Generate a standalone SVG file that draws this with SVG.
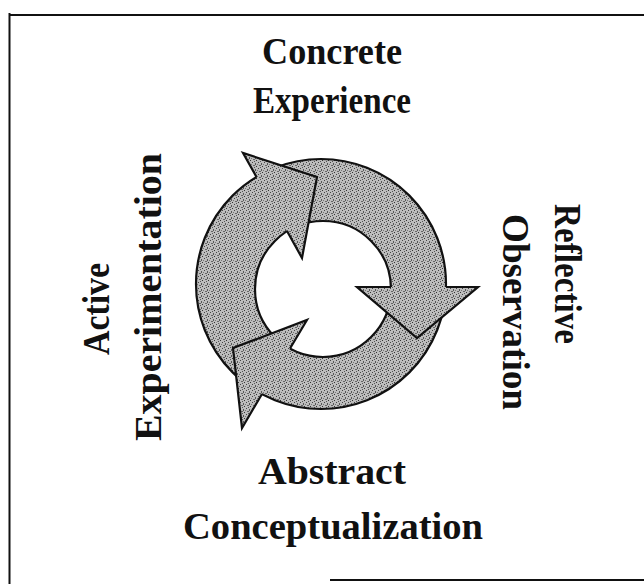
<svg xmlns="http://www.w3.org/2000/svg" width="644" height="584" viewBox="0 0 644 584">
<style>
.lbl{font-family:"Liberation Serif","Times New Roman",serif;font-weight:bold;font-size:38px;fill:#111;text-anchor:middle}
.frame{stroke:#111;stroke-width:2;fill:none}
.band{fill:url(#tex);stroke:none}
.edge{fill:none;stroke:#111;stroke-width:2.2;stroke-linejoin:miter}
</style>
<defs>
<pattern id="tex" width="6" height="6" patternUnits="userSpaceOnUse">
<rect width="6" height="6" fill="#bdbdbd"/>
<rect x="0" y="0" width="1" height="1" fill="#444"/>
<rect x="3" y="1" width="1" height="2" fill="#555"/>
<rect x="1" y="3" width="2" height="1" fill="#666"/>
<rect x="4" y="4" width="1" height="1" fill="#333"/>
<rect x="5" y="2" width="1" height="1" fill="#777"/>
<rect x="2" y="5" width="1" height="1" fill="#555"/>
</pattern>
</defs>
<rect width="644" height="584" fill="#fff"/>
<g id="frame">
<path class="frame" d="M9.5,13 V584 M9,15 H644 M330,580 H644"/>
</g>
<g id="connectors">
<path class="band" fill-rule="evenodd" d="M196,284 a125,125 0 1,0 250,0 a125,125 0 1,0 -250,0 Z M255,289 a68,68 0 1,0 136,0 a68,68 0 1,0 -136,0 Z"/>
<circle class="edge" cx="321" cy="284" r="125"/>
<circle class="edge" cx="323" cy="289" r="68"/>
<g id="arrow-top-left">
<polygon class="band" points="256.5,177 243,153 317,177 302,258 287,231"/>
<polyline class="edge" points="256.5,177 243,153 317,177 302,258 287,231"/>
</g>
<g id="arrow-right">
<polygon class="band" points="446,287 478,287 417,338 357,287 391,287"/>
<polyline class="edge" points="446,287 478,287 417,338 357,287 391,287"/>
</g>
<g id="arrow-lower-left">
<polygon class="band" points="262,394 242,428 233,348 307,320 290,348.5"/>
<polyline class="edge" points="262,394 242,428 233,348 307,320 290,348.5"/>
</g>
</g>
<g id="concrete-experience">
<text class="lbl" x="332" y="64" textLength="140" lengthAdjust="spacingAndGlyphs">Concrete</text>
<text class="lbl" x="332" y="113" textLength="158" lengthAdjust="spacingAndGlyphs">Experience</text>
</g>
<g id="reflective-observation">
<text class="lbl" transform="translate(555,274) rotate(90)" textLength="140" lengthAdjust="spacingAndGlyphs">Reflective</text>
<text class="lbl" transform="translate(503,312) rotate(90)" textLength="196" lengthAdjust="spacingAndGlyphs">Observation</text>
</g>
<g id="abstract-conceptualization">
<text class="lbl" x="332" y="484" textLength="148" lengthAdjust="spacingAndGlyphs">Abstract</text>
<text class="lbl" x="333" y="539" textLength="300" lengthAdjust="spacingAndGlyphs">Conceptualization</text>
</g>
<g id="active-experimentation">
<text class="lbl" transform="translate(109,309) rotate(-90)" textLength="92" lengthAdjust="spacingAndGlyphs">Active</text>
<text class="lbl" transform="translate(161,297) rotate(-90)" textLength="288" lengthAdjust="spacingAndGlyphs">Experimentation</text>
</g>
</svg>
